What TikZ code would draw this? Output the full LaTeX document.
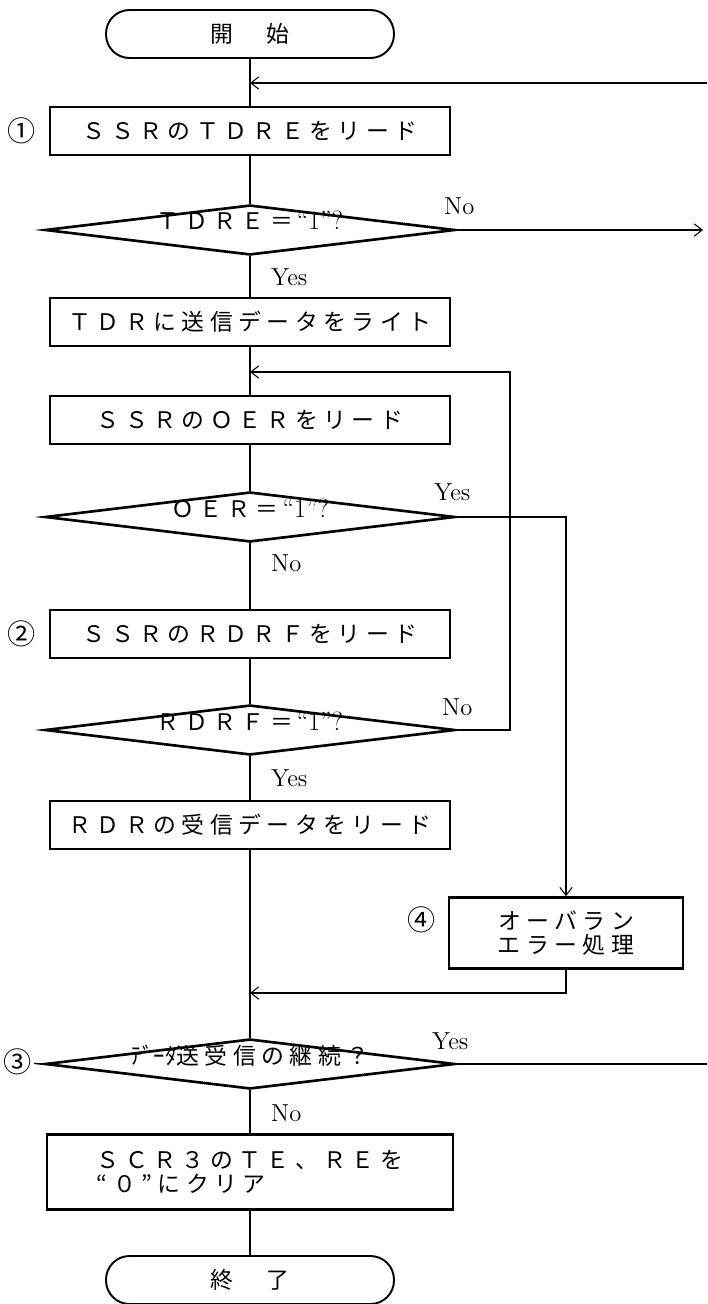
\documentclass[tikz,border=0pt]{standalone}
\usepackage{fontspec}
\usetikzlibrary{shapes.geometric,arrows.meta}
\newfontfamily\jpfont[LetterSpace=24]{Noto Sans CJK JP}
\newfontfamily\jpplain{Noto Sans CJK JP}
\begin{document}
\begin{tikzpicture}[x=0.02cm,y=-0.02cm,
  procbox/.style={draw,line width=1.5pt,minimum width=8cm,minimum height=0.96cm,inner sep=0pt,font=\fontsize{13pt}{14pt}\jpfont},
  decision/.style={diamond,draw,line width=1.5pt,minimum width=8.2cm,minimum height=1cm,aspect=8,inner sep=0pt,font=\fontsize{13pt}{14pt}\jpfont},
  terminal/.style={draw,line width=1.1pt,rounded corners=0.47cm,minimum width=5.76cm,minimum height=0.96cm,font=\fontsize{13pt}{14pt}\jpfont},
  flow/.style={line width=0.6pt},
  answer/.style={anchor=west,font=\fontsize{14pt}{15pt}\selectfont},
  stepno/.style={inner sep=1pt,font=\fontsize{16pt}{17pt}\jpplain},
  >={Straight Barb[length=4.5pt,width=7pt]}]
\useasboundingbox (0,0) rectangle (707,1304);
% Start and transmit check
\node[terminal] (start) at (250,34) {開　始};
\coordinate (back1) at (707,83);
\node[procbox] (box1) at (250,131) {ＳＳＲのＴＤＲＥをリード};
\node[stepno] (num1) at (22,131) {①};
\node[decision] (dec1) at (250,230) {\smash{ＴＤＲＥ＝\,{\rmfamily\fontsize{15pt}{15pt}\selectfont “1”?}}};
\coordinate (nogo) at (703,230);
\node[answer] at (438,206) {No};
\node[answer] at (265,277) {Yes};
\node[procbox] (box2) at (250,322) {ＴＤＲに送信データをライト};
% Overrun check
\coordinate (turn3) at (510,372);
\node[procbox] (box3) at (250,420) {ＳＳＲのＯＥＲをリード};
\node[decision] (dec2) at (250,517) {\smash{ＯＥＲ＝\,{\rmfamily\fontsize{15pt}{15pt}\selectfont “1”?}}};
\node[answer] at (428,492) {Yes};
\node[answer] at (265,563) {No};
% Receive check
\node[procbox] (box5) at (250,634) {ＳＳＲのＲＤＲＦをリード};
\node[stepno] (num2) at (22,634) {②};
\node[decision] (dec3) at (250,730) {\smash{ＲＤＲＦ＝\,{\rmfamily\fontsize{15pt}{15pt}\selectfont “1”?}}};
\node[answer] at (436,707) {No};
\node[answer] at (265,778) {Yes};
\node[procbox] (box6) at (250,825) {ＲＤＲの受信データをリード};
% Overrun error
\node[procbox,minimum width=4.68cm,minimum height=1.42cm,align=center] (box4) at (566,933) {オーバラン\\エラー処理};
\node[stepno] (num4) at (422,920) {④};
\coordinate (merge) at (250,993);
% Continue or finish
\node[decision] (dec4) at (250,1064) {\smash{{\jpplain ﾃﾞｰﾀ}送受信の継続？}};
\node[stepno] (num3) at (18,1062) {③};
\coordinate (yesgo) at (707,1064);
\node[answer] at (426,1041) {Yes};
\node[answer] at (265,1113) {No};
\node[procbox,minimum width=8.12cm,minimum height=1.5cm,align=left] (box7) at (250,1172) {ＳＣＲ３のＴＥ、ＲＥを\\“０”にクリア};
\node[terminal] (stop) at (250,1280) {終　了};
% Connectors
\draw[flow] (start) -- (box1);
\draw[flow,->] (back1) -- (back1 -| box1.north);
\draw[flow] (box1) -- (dec1);
\draw[flow,->] (dec1.east) -- (nogo);
\draw[flow] (dec1) -- (box2);
\draw[flow] (box2) -- (box3);
\draw[flow,->] (dec3.east) -| (turn3) -- (turn3 -| box3.north);
\draw[flow] (box3) -- (dec2);
\draw[flow,->] (dec2.east) -| (box4.north);
\draw[flow] (dec2) -- (box5);
\draw[flow] (box5) -- (dec3);
\draw[flow] (dec3) -- (box6);
\draw[flow] (box6) -- (dec4);
\draw[flow,->] (box4.south) |- (merge);
\draw[flow] (dec4.east) -- (yesgo);
\draw[flow] (num3) -- (dec4.west);
\draw[flow] (dec4) -- (box7);
\draw[flow] (box7) -- (stop);
\end{tikzpicture}
\end{document}
